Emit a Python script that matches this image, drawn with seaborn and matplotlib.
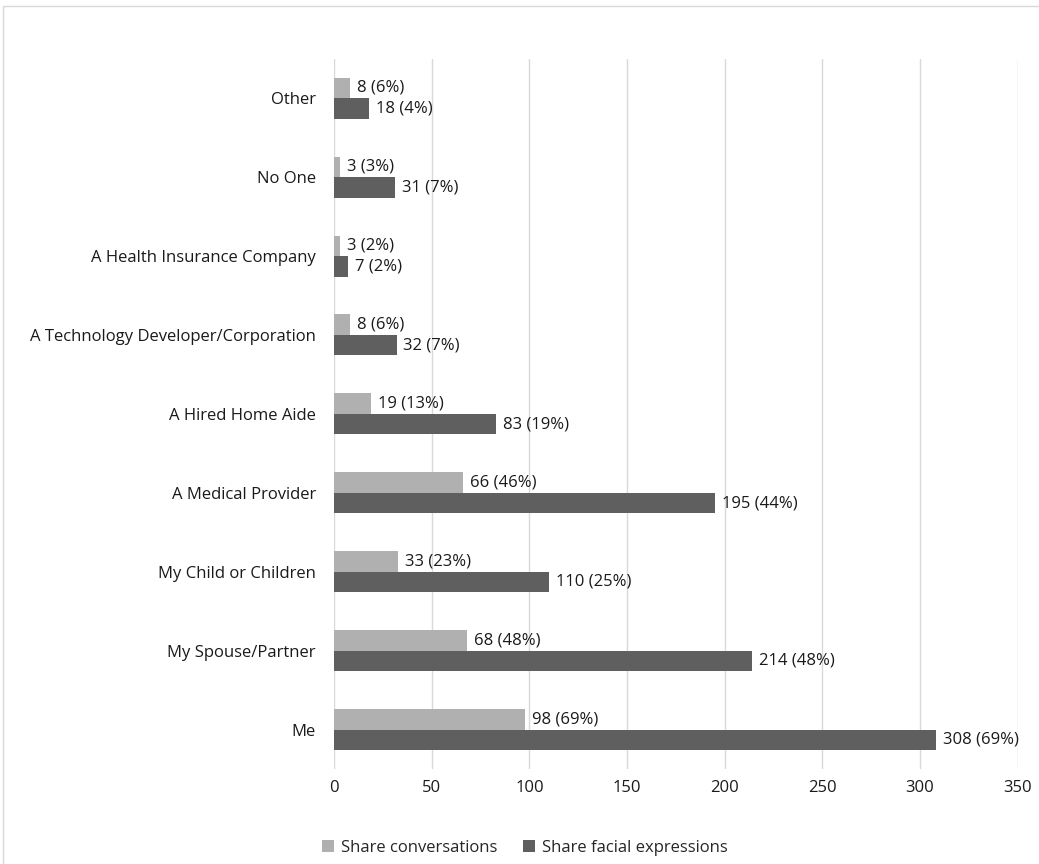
import matplotlib
matplotlib.use("Agg")
import matplotlib.pyplot as plt
import seaborn as sns
import pandas as pd
from matplotlib.lines import Line2D

categories = ["Other", "No One", "A Health Insurance Company",
              "A Technology Developer/Corporation", "A Hired Home Aide",
              "A Medical Provider", "My Child or Children",
              "My Spouse/Partner", "Me"]
conv_values = [8, 3, 3, 8, 19, 66, 33, 68, 98]
conv_pct = [6, 3, 2, 6, 13, 46, 23, 48, 69]
face_values = [18, 31, 7, 32, 83, 195, 110, 214, 308]
face_pct = [4, 7, 2, 7, 19, 44, 25, 48, 69]
series = ["Share conversations", "Share facial expressions"]
x_ticks = [0, 50, 100, 150, 200, 250, 300, 350]

rows = []
for c, v, p in zip(categories, conv_values, conv_pct):
    rows.append({"cat": c, "series": series[0], "value": v, "pct": p})
for c, v, p in zip(categories, face_values, face_pct):
    rows.append({"cat": c, "series": series[1], "value": v, "pct": p})
df = pd.DataFrame(rows)

sns.set_theme(style="white")
plt.rcParams["font.family"] = ["Open Sans", "DejaVu Sans"]

fig = plt.figure(figsize=(10.39, 8.64), dpi=100)
ax = fig.add_axes([0.3215, 0.110, 0.658, 0.822])

palette = {series[0]: "#b0b0b0", series[1]: "#5f5f5f"}
sns.barplot(data=df, y="cat", x="value", hue="series", order=categories,
            hue_order=series, palette=palette, orient="h", width=0.52,
            linewidth=0, saturation=1, ax=ax, legend=True)

for cont, s in zip(ax.containers, series):
    sub = df[df.series == s].set_index("cat").loc[categories]
    labels = [f"{v} ({p}%)" for v, p in zip(sub.value, sub.pct)]
    ax.bar_label(cont, labels=labels, padding=5, fontsize=12, color="#1a1a1a")

ax.set_xlim(0, 350)
ax.set_xticks(x_ticks)
ax.set_ylim(8.5, -0.5)
ax.xaxis.grid(True, color="#d9d9d9", linewidth=1)
ax.yaxis.grid(False)
ax.set_axisbelow(True)
for sp in ax.spines.values():
    sp.set_visible(False)
ax.set_xlabel("")
ax.set_ylabel("")
ax.tick_params(axis="y", length=0, pad=13, labelsize=12, labelcolor="#1a1a1a")
ax.tick_params(axis="x", length=0, pad=8, labelsize=12, labelcolor="#1a1a1a")

handles, labs = ax.get_legend_handles_labels()
ax.get_legend().remove()
fig.legend(handles, labs, loc="lower center", bbox_to_anchor=(0.505, -0.008),
           ncol=2, frameon=False, fontsize=12, handlelength=0.75,
           handleheight=0.75, columnspacing=1.5, handletextpad=0.4)

fig.add_artist(Line2D([3/1039, 1.0], [1 - 6/864, 1 - 6/864],
                      transform=fig.transFigure, color="#d9d9d9", linewidth=1))
fig.add_artist(Line2D([3/1039, 3/1039], [0, 1 - 6/864],
                      transform=fig.transFigure, color="#d9d9d9", linewidth=1))

fig.savefig("out.png", dpi=100)
